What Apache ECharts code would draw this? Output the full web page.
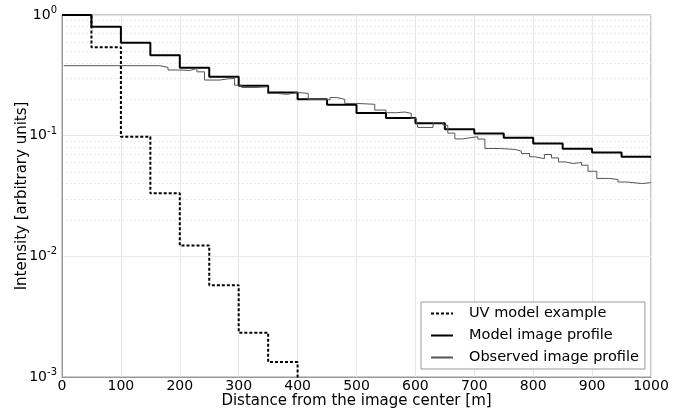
<!DOCTYPE html>
<html><head><meta charset="utf-8">
<script src="https://cdn.jsdelivr.net/npm/echarts@6/dist/echarts.min.js"></script>
<style>html,body{margin:0;padding:0;background:#fff}#c{width:696px;height:412px}</style>
</head><body><div id="c"></div>
<script>
// UV model example (step, left edges)
const uvX = [0, 50, 100, 150, 200, 250, 300, 350, 400];
const uvY = [1.0, 0.54, 0.098, 0.0333, 0.0123, 0.00577, 0.00233, 0.00133, 0.0005];
// Model image profile
const modelX = [0, 50, 100, 150, 200, 250, 300, 350, 400, 450, 500, 550, 600, 650, 700, 750, 800, 850, 900, 950, 1000];
const modelY = [1.0, 0.80, 0.59, 0.464, 0.366, 0.308, 0.259, 0.228, 0.200, 0.180, 0.154, 0.140, 0.127, 0.113, 0.104, 0.096, 0.086, 0.078, 0.0726, 0.0670, 0.0670];
// Observed image profile
const obsX = [3, 166, 180, 200, 217, 229, 242, 268, 280, 293, 305, 331, 349, 366, 381, 400, 418, 446, 455, 467, 480, 500, 531, 550, 568, 582, 593, 602, 604, 630, 647, 655, 667, 680, 696, 706, 718, 743, 769, 780, 794, 802, 819, 831, 843, 855, 867, 882, 893, 908, 930, 944, 959, 984, 1000];
const obsY = [0.380, 0.368, 0.350, 0.347, 0.360, 0.338, 0.289, 0.295, 0.298, 0.262, 0.251, 0.254, 0.224, 0.220, 0.228, 0.224, 0.200, 0.198, 0.207, 0.200, 0.185, 0.182, 0.163, 0.155, 0.157, 0.153, 0.139, 0.130, 0.117, 0.128, 0.122, 0.105, 0.094, 0.0966, 0.098, 0.0937, 0.0783, 0.0769, 0.0744, 0.0711, 0.0669, 0.0645, 0.0698, 0.0654, 0.0606, 0.0588, 0.0599, 0.0569, 0.0507, 0.0442, 0.0433, 0.0413, 0.0401, 0.0408, 0.0408];
// Axis ticks
const xTickInterval = 100;
const yMin = 0.001, yMax = 1;
const minorY = [];
for (let e = -3; e < 0; e++) for (let m = 2; m <= 9; m++) minorY.push(m * Math.pow(10, e));

const seriesNames = ['UV model example', 'Model image profile', 'Observed image profile'];
const zip = (xs, ys) => xs.map((x, i) => [x, ys[i]]);
const FONT = 'DejaVu Sans';

const chart = echarts.init(document.getElementById('c'), null, {renderer: 'canvas'});
chart.setOption({
  animation: false,
  backgroundColor: '#fff',
  grid: {left: 62, right: 45, top: 15, bottom: 35, show: true, borderColor: '#999', borderWidth: 1,
         containLabel: false, outerBoundsMode: 'none'},
  xAxis: {
    type: 'value', min: 0, max: 1000, interval: xTickInterval,
    name: 'Distance from the image center [m]', nameLocation: 'middle', nameGap: 17, nameMoveOverlap: false,
    nameTextStyle: {fontFamily: FONT, fontSize: 15, color: '#000'},
    axisLine: {show: true, lineStyle: {color: '#999'}},
    axisTick: {show: false},
    axisLabel: {fontFamily: FONT, fontSize: 14, color: '#000', margin: 2, formatter: v => String(v)},
    splitLine: {show: true, lineStyle: {color: '#e6e6e6', width: 1}}
  },
  yAxis: {
    type: 'log', logBase: 10, min: yMin, max: yMax,
    name: 'Intensity [arbitrary units]', nameLocation: 'middle', nameGap: 32, nameMoveOverlap: false,
    nameTextStyle: {fontFamily: FONT, fontSize: 15, color: '#000'},
    axisLine: {show: true, lineStyle: {color: '#999'}},
    axisTick: {show: false},
    axisLabel: {
      fontFamily: FONT, fontSize: 14, color: '#000', margin: 5,
      formatter: v => '{b|10}{s|' + Math.round(Math.log10(v)) + '}',
      rich: {
        b: {fontFamily: FONT, fontSize: 14, color: '#000'},
        s: {fontFamily: FONT, fontSize: 10, color: '#000', padding: [0, 0, 9, 0]}
      }
    },
    splitLine: {show: true, lineStyle: {color: '#e6e6e6', width: 1}}
  },
  legend: {
    orient: 'vertical', left: 421, top: 302,
    data: seriesNames,
    backgroundColor: '#fff', borderColor: '#999', borderWidth: 1, borderRadius: 0,
    padding: [4, 6, 4, 9], itemGap: 7, itemWidth: 22, itemHeight: 14,
    itemStyle: {opacity: 0},
    textStyle: {fontFamily: FONT, fontSize: 14.5, color: '#000', padding: [0, 0, 0, 11]}
  },
  series: [
    {
      name: 'Minor grid', type: 'line', data: [], silent: true, z: 0, zlevel: 0,
      markLine: {
        silent: true, symbol: 'none', animation: false, z: 0,
        label: {show: false},
        lineStyle: {type: [2, 2], color: '#ececec', width: 1},
        data: minorY.map(v => ({yAxis: v}))
      }
    },
    {
      name: seriesNames[0], type: 'line', step: 'end', showSymbol: false, symbol: 'none', z: 3,
      data: zip(uvX, uvY), color: '#000',
      lineStyle: {color: '#000', width: 2, type: [3, 2]}
    },
    {
      name: seriesNames[1], type: 'line', step: 'end', showSymbol: false, symbol: 'none', z: 4,
      data: zip(modelX, modelY), color: '#000',
      lineStyle: {color: '#000', width: 2}
    },
    {
      name: seriesNames[2], type: 'line', step: 'end', showSymbol: false, symbol: 'none', z: 5,
      data: zip(obsX, obsY), color: '#555',
      lineStyle: {color: '#555', width: 1}
    }
  ]
});
</script>
</body></html>
